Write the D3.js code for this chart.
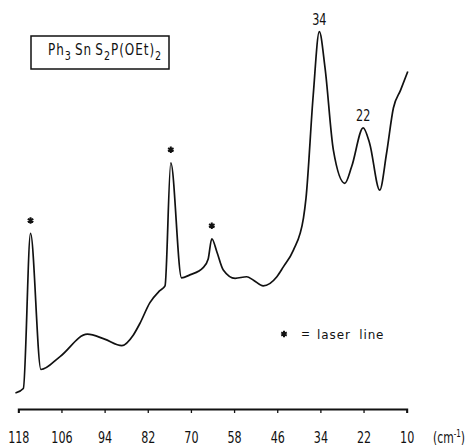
<!DOCTYPE html>
<html>
<head>
<meta charset="utf-8">
<script src="https://cdn.jsdelivr.net/npm/d3@7"></script>
<style>
  body { margin: 0; background: #fff; }
  svg { display: block; }
  text { font-family: "DejaVu Sans", sans-serif; fill: #111; }
</style>
</head>
<body>
<svg width="469" height="445"></svg>
<script>
var width = 469, height = 445;

// raman spectrum (cm-1 vs relative intensity)
var wavenumbers = [118.8, 116.6, 114.6, 111.7, 106.4, 98.8, 94.0, 89.2, 86.0, 84.2, 81.4, 78.8, 77.2, 75.6,
                   72.6, 70.3, 66.6, 65.2, 64.2, 62.8, 61.0, 57.7, 54.5, 52.6, 49.9, 46.1, 44.3, 41.5,
                   38.7, 38.0, 36.0, 34.3, 32.7, 30.4, 27.2, 25.3, 22.1, 20.3, 17.5, 15.6, 13.7, 11.7, 9.7];
var intensities = [4.2, 5.4, 46.2, 10.4, 13.8, 19.7, 18.4, 16.7, 19.5, 22.5, 28.0, 31.0, 32.4, 64.8,
                   34.5, 35.3, 37.2, 39.5, 44.8, 41.4, 36.6, 34.4, 34.8, 33.9, 32.4, 34.8, 37.4, 41.8,
                   50.3, 55.5, 82.5, 99.3, 89.7, 68.2, 59.4, 63.8, 74.0, 69.9, 57.6, 67.3, 79.2, 83.9, 88.8];
var tickValues = [118, 106, 94, 82, 70, 58, 46, 34, 22, 10];
var laserLines = [114.6, 75.6, 64.2];
var peakLabels = [34.3, 22.1];
var peakTexts = ["34", "22"];

var data = wavenumbers.map(function(w, i) { return {w: w, v: intensities[i]}; });
function val(w) { return intensities[wavenumbers.indexOf(w)]; }

var svg = d3.select("svg");

var x = d3.scaleLinear().domain([118, 10]).range([18.3, 406.7]);
var y = d3.scaleLinear().domain([0, 100]).range([409, 29]);

// plotter lettering is narrow, squeeze the text horizontally
function narrowText(px, py, size, sx) {
  return svg.append("g").attr("transform", "translate(" + px + "," + py + ")")
    .append("text").attr("transform", "scale(" + sx + ",1)").attr("font-size", size);
}

// axis
var axis = svg.append("g")
    .attr("transform", "translate(0,409)")
    .call(d3.axisBottom(x).tickValues(tickValues).tickSize(4).tickSizeOuter(4).tickPadding(19)
          .tickFormat(d3.format("d")));
axis.select(".domain").attr("stroke", "#111").attr("stroke-width", 2);
axis.selectAll(".tick line").attr("stroke", "#111").attr("stroke-width", 1.3);
axis.selectAll(".tick text")
    .attr("font-size", 15.5)
    .attr("font-family", "DejaVu Sans, sans-serif")
    .attr("fill", "#111")
    .attr("transform", "scale(0.72,1)");

var unit = narrowText(433, 443, 15, 0.72);
unit.append("tspan").text("(cm");
unit.append("tspan").attr("dy", -6).attr("font-size", 10).text("-1");
unit.append("tspan").attr("dy", 6).text(")");

// spectrum
var line = d3.line()
    .x(function(d) { return x(d.w); })
    .y(function(d) { return y(d.v); })
    .curve(d3.curveMonotoneX);

svg.append("path")
    .datum(data)
    .attr("fill", "none")
    .attr("stroke", "#111")
    .attr("stroke-width", 1.7)
    .attr("stroke-linejoin", "round")
    .attr("d", line);

// laser line marks
var star = d3.symbol(d3.symbolAsterisk, 28);
svg.selectAll(".star")
    .data(laserLines)
    .enter().append("path")
    .attr("class", "star")
    .attr("transform", function(d) { return "translate(" + x(d) + "," + (y(val(d)) - 13) + ")"; })
    .attr("d", star)
    .attr("stroke", "#111")
    .attr("stroke-width", 2)
    .attr("fill", "none");

// peak labels
svg.selectAll(".peak")
    .data(peakLabels)
    .enter().append("g")
    .attr("class", "peak")
    .attr("transform", function(d) { return "translate(" + x(d) + "," + (y(val(d)) - 6.5) + ")"; })
    .append("text")
    .attr("transform", "scale(0.75,1)")
    .attr("text-anchor", "middle")
    .attr("font-size", 15)
    .text(function(d, i) { return peakTexts[i]; });

// compound box
svg.append("rect")
    .attr("x", 31).attr("y", 36).attr("width", 138).attr("height", 33)
    .attr("fill", "none").attr("stroke", "#111").attr("stroke-width", 1.5);

var title = narrowText(48, 55, 15, 0.8).attr("letter-spacing", 1.2);
title.append("tspan").text("Ph");
title.append("tspan").attr("dy", 5).attr("font-size", 12).text("3");
title.append("tspan").attr("dy", -5).attr("dx", 4).text("Sn");
title.append("tspan").attr("dx", 4).text("S");
title.append("tspan").attr("dy", 5).attr("font-size", 12).text("2");
title.append("tspan").attr("dy", -5).text("P(OEt)");
title.append("tspan").attr("dy", 5).attr("font-size", 12).text("2");

// legend
svg.append("path")
    .attr("transform", "translate(284,334)")
    .attr("d", star)
    .attr("stroke", "#111").attr("stroke-width", 2).attr("fill", "none");
narrowText(301, 338, 12, 0.9).text("=");
narrowText(317, 339, 13, 0.92).attr("letter-spacing", 1).attr("word-spacing", 4).text("laser line");
</script>
</body>
</html>
